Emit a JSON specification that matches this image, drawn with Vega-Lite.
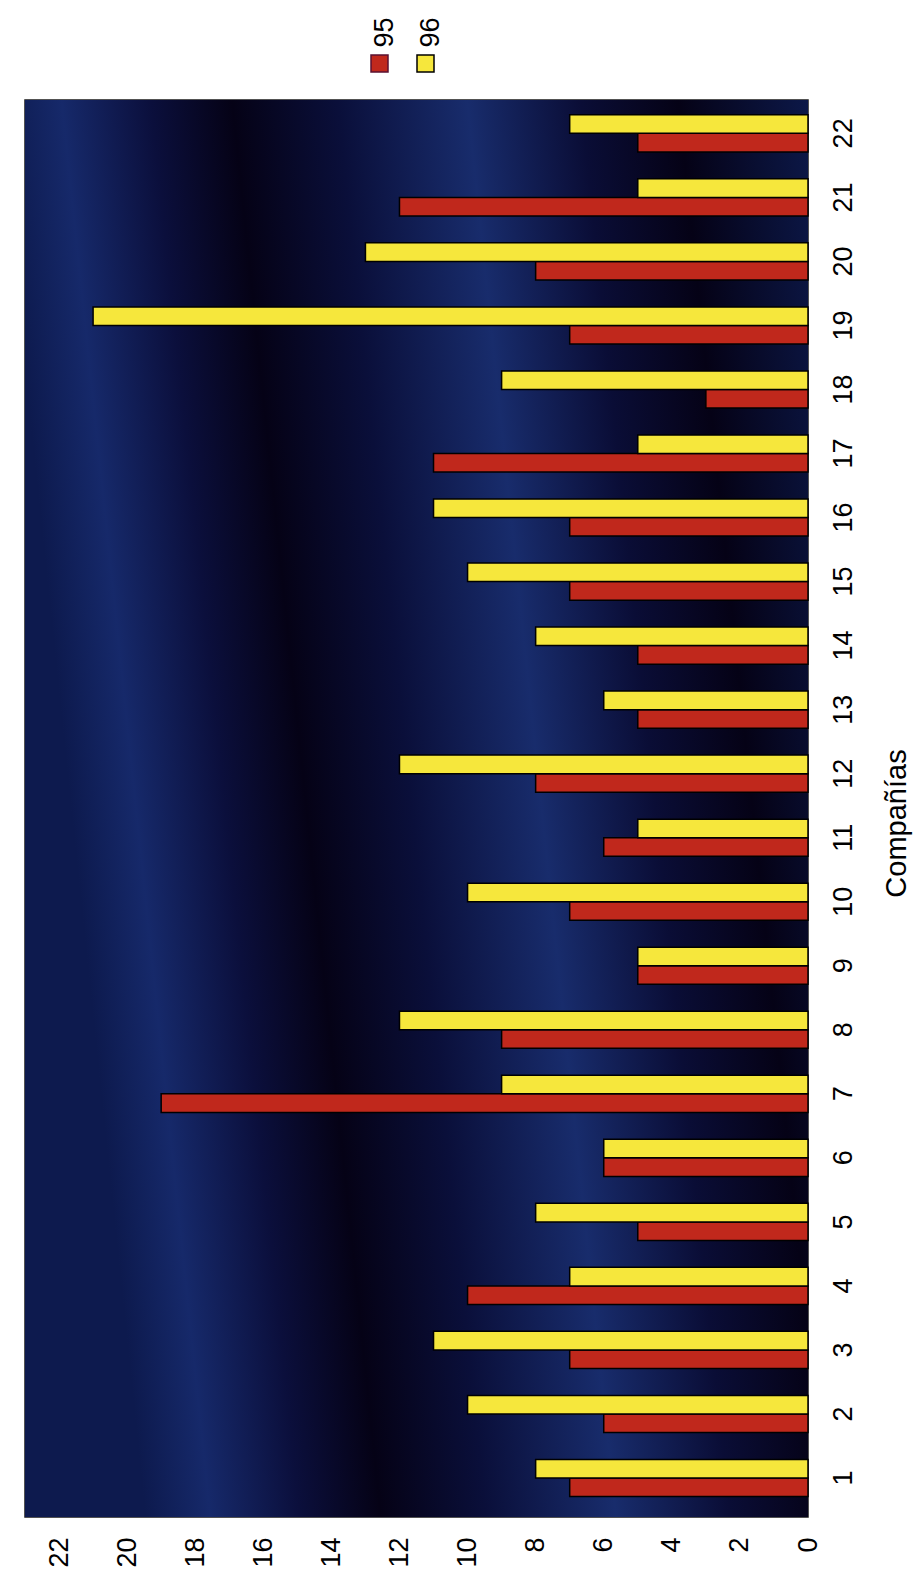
{
  "$schema": "https://vega.github.io/schema/vega-lite/v6.json",
  "width": 783,
  "height": 1417,
  "autosize": {"type": "none"},
  "padding": {"left": 25, "top": 100, "right": 105, "bottom": 75},
  "background": "white",
  "config": {
    "font": "Liberation Sans",
    "view": {"stroke": "#1a1a1a", "strokeWidth": 1.5}
  },
  "data": {
    "values": [
      {"company": 1, "year": "95", "value": 7}, {"company": 1, "year": "96", "value": 8},
      {"company": 2, "year": "95", "value": 6}, {"company": 2, "year": "96", "value": 10},
      {"company": 3, "year": "95", "value": 7}, {"company": 3, "year": "96", "value": 11},
      {"company": 4, "year": "95", "value": 10}, {"company": 4, "year": "96", "value": 7},
      {"company": 5, "year": "95", "value": 5}, {"company": 5, "year": "96", "value": 8},
      {"company": 6, "year": "95", "value": 6}, {"company": 6, "year": "96", "value": 6},
      {"company": 7, "year": "95", "value": 19}, {"company": 7, "year": "96", "value": 9},
      {"company": 8, "year": "95", "value": 9}, {"company": 8, "year": "96", "value": 12},
      {"company": 9, "year": "95", "value": 5}, {"company": 9, "year": "96", "value": 5},
      {"company": 10, "year": "95", "value": 7}, {"company": 10, "year": "96", "value": 10},
      {"company": 11, "year": "95", "value": 6}, {"company": 11, "year": "96", "value": 5},
      {"company": 12, "year": "95", "value": 8}, {"company": 12, "year": "96", "value": 12},
      {"company": 13, "year": "95", "value": 5}, {"company": 13, "year": "96", "value": 6},
      {"company": 14, "year": "95", "value": 5}, {"company": 14, "year": "96", "value": 8},
      {"company": 15, "year": "95", "value": 7}, {"company": 15, "year": "96", "value": 10},
      {"company": 16, "year": "95", "value": 7}, {"company": 16, "year": "96", "value": 11},
      {"company": 17, "year": "95", "value": 11}, {"company": 17, "year": "96", "value": 5},
      {"company": 18, "year": "95", "value": 3}, {"company": 18, "year": "96", "value": 9},
      {"company": 19, "year": "95", "value": 7}, {"company": 19, "year": "96", "value": 21},
      {"company": 20, "year": "95", "value": 8}, {"company": 20, "year": "96", "value": 13},
      {"company": 21, "year": "95", "value": 12}, {"company": 21, "year": "96", "value": 5},
      {"company": 22, "year": "95", "value": 5}, {"company": 22, "year": "96", "value": 7}
    ]
  },
  "layer": [
    {
      "data": {"values": [{}]},
      "mark": {
        "type": "rect",
        "color": {
          "gradient": "linear",
          "x1": 0, "y1": 0.19, "x2": 1, "y2": 0,
          "stops": [
            {"offset": 0, "color": "#0d1a4e"},
            {"offset": 0.08, "color": "#16296a"},
            {"offset": 0.19, "color": "#0b0f3c"},
            {"offset": 0.29, "color": "#050216"},
            {"offset": 0.42, "color": "#0a0f3a"},
            {"offset": 0.58, "color": "#182c6c"},
            {"offset": 0.72, "color": "#0a0d36"},
            {"offset": 0.84, "color": "#050216"},
            {"offset": 1, "color": "#0c1848"}
          ]
        }
      },
      "encoding": {
        "x": {"datum": 0, "type": "quantitative"},
        "x2": {"datum": 23}
      }
    },
    {
      "mark": {"type": "bar", "stroke": "black", "strokeWidth": 1.5},
      "encoding": {
        "y": {
          "field": "company",
          "type": "ordinal",
          "sort": "descending",
          "scale": {"paddingInner": 0.42, "paddingOuter": 0.275, "align": 0.42},
          "axis": {
            "orient": "right",
            "title": "Compañías",
            "labelAngle": 270,
            "labelAlign": "center",
            "labelBaseline": "top",
            "labelPadding": 22,
            "labelFontSize": 27,
            "labelColor": "black",
            "ticks": false,
            "domain": false,
            "titleAngle": 270,
            "titleFontSize": 29,
            "titleFontWeight": "normal",
            "titleBaseline": "top",
            "titlePadding": 26,
            "titleY": 723,
            "titleColor": "black"
          }
        },
        "yOffset": {"field": "year", "type": "nominal", "sort": ["96", "95"]},
        "x": {
          "field": "value",
          "type": "quantitative",
          "scale": {"domain": [0, 23], "reverse": true, "nice": false},
          "axis": {
            "values": [0, 2, 4, 6, 8, 10, 12, 14, 16, 18, 20, 22],
            "labelAngle": 270,
            "labelAlign": "right",
            "labelBaseline": "middle",
            "labelPadding": 20,
            "labelFontSize": 27,
            "labelColor": "black",
            "labelFlush": false,
            "labelOverlap": false,
            "ticks": false,
            "domain": false,
            "grid": false,
            "title": null
          }
        },
        "color": {
          "field": "year",
          "type": "nominal",
          "scale": {"domain": ["95", "96"], "range": ["#c0281c", "#f6e73c"]},
          "legend": {
            "orient": "none",
            "legendX": 341,
            "legendY": -50,
            "direction": "horizontal",
            "title": null,
            "symbolType": "square",
            "symbolSize": 289,
            "symbolStrokeColor": "black",
            "symbolStrokeWidth": 1.5,
            "labelFontSize": 27,
            "labelColor": "black",
            "labelOffset": 4,
            "columnPadding": 14,
            "encode": {
              "symbols": {
                "update": {
                  "fill": {"signal": "datum.value === '95' ? '#7a1a3c' : '#f6e73c'"},
                  "stroke": {"signal": "datum.value === '95' ? '#5a1030' : 'black'"}
                }
              },
              "labels": {
                "update": {
                  "angle": {"value": -90},
                  "align": {"value": "left"},
                  "baseline": {"value": "middle"},
                  "dx": {"value": 16},
                  "dy": {"value": -12.5}
                }
              }
            }
          }
        }
      }
    }
  ]
}
